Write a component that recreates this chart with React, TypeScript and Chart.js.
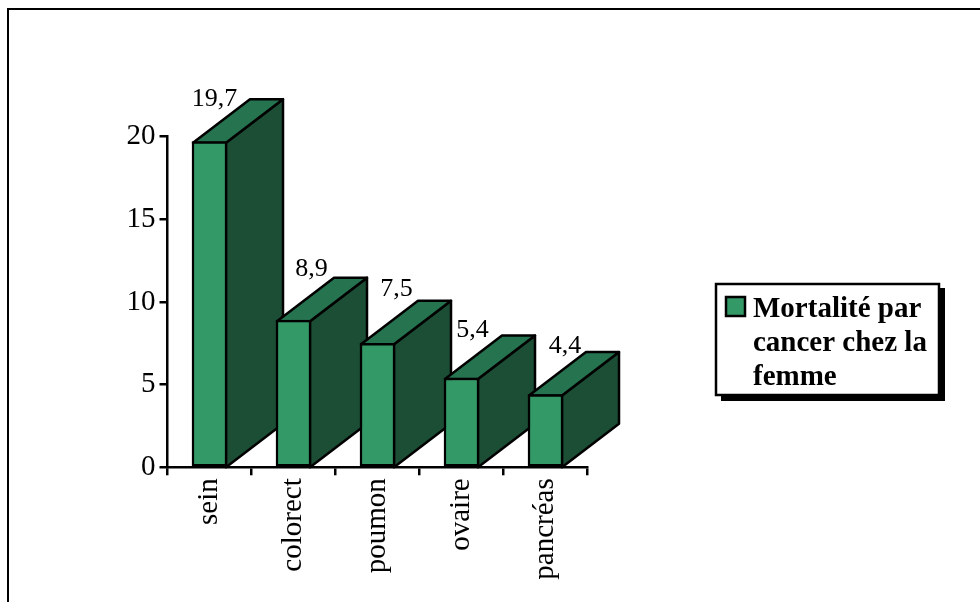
import React, { useEffect, useRef } from "react";
import { Chart, registerables } from "chart.js";

Chart.register(...registerables);

const categories = ["sein", "colorect", "poumon", "ovaire", "pancréas"];
const mortality = [19.7, 8.9, 7.5, 5.4, 4.4];
const yTicks = [0, 5, 10, 15, 20];
const legendLines = ["Mortalité par", "cancer chez la", "femme"];

const FONT = '"Liberation Serif", "Times New Roman", serif';
const FRONT = "#339966";
const TOP = "#267350";
const SIDE = "#1c4d35";
const INK = "#000000";
const STROKE = 2.5;

// Receding offset of the extruded bars
const DEPTH_X = 57;
const DEPTH_Y = 43.5;

// Nudges that seat each value label beside its block
const labelShift = [
  [5, -36],
  [18, -44],
  [19, -47],
  [11, -41],
  [19.5, -42],
];

const fmt = (v: number) => String(v).replace(".", ",");

function poly(ctx: CanvasRenderingContext2D, pts: number[][], fill: string) {
  ctx.beginPath();
  pts.forEach(([x, y], i) => (i ? ctx.lineTo(x, y) : ctx.moveTo(x, y)));
  ctx.closePath();
  ctx.fillStyle = fill;
  ctx.fill();
  ctx.lineWidth = STROKE;
  ctx.strokeStyle = INK;
  ctx.lineJoin = "round";
  ctx.stroke();
}

// Side and top faces behind the front bars, value labels above them
const extrusion = {
  id: "extrusion",
  beforeDatasetsDraw(chart: any) {
    const { ctx } = chart;
    const meta = chart.getDatasetMeta(0);
    const base = chart.scales.y.getPixelForValue(0);
    ctx.save();
    meta.data.forEach((bar: any) => {
      const half = bar.width / 2 - 1;
      const l = bar.x - half;
      const r = bar.x + half;
      const t = bar.y + 1;
      const b = base;
      poly(ctx, [[r, t], [r + DEPTH_X, t - DEPTH_Y], [r + DEPTH_X, b - DEPTH_Y], [r, b]], SIDE);
      poly(ctx, [[l, t], [l + DEPTH_X, t - DEPTH_Y], [r + DEPTH_X, t - DEPTH_Y], [r, t]], TOP);
    });
    ctx.restore();
  },
  afterDatasetsDraw(chart: any) {
    const { ctx } = chart;
    const meta = chart.getDatasetMeta(0);
    ctx.save();
    ctx.fillStyle = INK;
    ctx.font = `26px ${FONT}`;
    ctx.textAlign = "center";
    ctx.textBaseline = "alphabetic";
    meta.data.forEach((bar: any, i: number) => {
      const [dx, dy] = labelShift[i];
      ctx.fillText(fmt(mortality[i]), bar.x + dx, bar.y + dy);
    });
    ctx.restore();
  },
};

const frameAndLegend = {
  id: "frameAndLegend",
  afterDraw(chart: any) {
    const { ctx, width, height } = chart;
    ctx.save();
    ctx.strokeStyle = INK;
    ctx.lineWidth = 2;
    ctx.beginPath();
    ctx.moveTo(8, height);
    ctx.lineTo(8, 9);
    ctx.lineTo(width, 9);
    ctx.stroke();

    ctx.fillStyle = INK;
    ctx.fillRect(721, 288, 224, 113);
    ctx.fillStyle = "#ffffff";
    ctx.fillRect(716, 284, 223, 111);
    ctx.lineWidth = STROKE;
    ctx.strokeRect(716, 284, 223, 111);

    ctx.fillStyle = FRONT;
    ctx.fillRect(726, 297, 19, 19);
    ctx.strokeRect(726, 297, 19, 19);

    ctx.fillStyle = INK;
    ctx.font = `bold 29px ${FONT}`;
    ctx.textAlign = "left";
    ctx.textBaseline = "alphabetic";
    legendLines.forEach((line, i) => ctx.fillText(line, 753, 317 + i * 34));
    ctx.restore();
  },
};

export default function App() {
  const ref = useRef<HTMLCanvasElement>(null);

  useEffect(() => {
    const chart = new Chart(ref.current!, {
      type: "bar",
      data: {
        labels: categories,
        datasets: [
          {
            label: legendLines.join(" "),
            data: mortality,
            backgroundColor: FRONT,
            borderColor: INK,
            borderWidth: STROKE,
            borderSkipped: false,
            barThickness: 35,
          },
        ],
      },
      options: {
        responsive: false,
        animation: false,
        events: [],
        layout: { padding: { left: 0, top: 136.7, right: 392.5, bottom: 0 } },
        plugins: { legend: { display: false }, tooltip: { enabled: false }, title: { display: false } },
        scales: {
          x: {
            offset: true,
            afterFit: (s: any) => {
              s.height = 134.7;
            },
            border: { color: INK, width: STROKE },
            grid: { offset: true, drawOnChartArea: false, color: INK, lineWidth: STROKE, tickLength: 8, tickColor: INK },
            ticks: {
              color: INK,
              font: { family: FONT, size: 29 },
              minRotation: 90,
              maxRotation: 90,
              padding: 3,
              autoSkip: false,
            },
          },
          y: {
            min: 0,
            max: 20,
            afterFit: (s: any) => {
              s.width = 167.5;
            },
            afterBuildTicks: (s: any) => {
              s.ticks = yTicks.map((value) => ({ value }));
            },
            border: { color: INK, width: STROKE },
            grid: { drawOnChartArea: false, color: INK, lineWidth: STROKE, tickLength: 8, tickColor: INK },
            ticks: { color: INK, font: { family: FONT, size: 29 }, padding: 4 },
          },
        },
      },
      plugins: [extrusion, frameAndLegend],
    } as any);
    return () => chart.destroy();
  }, []);

  return (
    <div style={{ position: "fixed", left: 0, top: 0, width: 980, height: 602, background: "#ffffff" }}>
      <canvas ref={ref} width={980} height={602} style={{ display: "block" }} />
    </div>
  );
}
